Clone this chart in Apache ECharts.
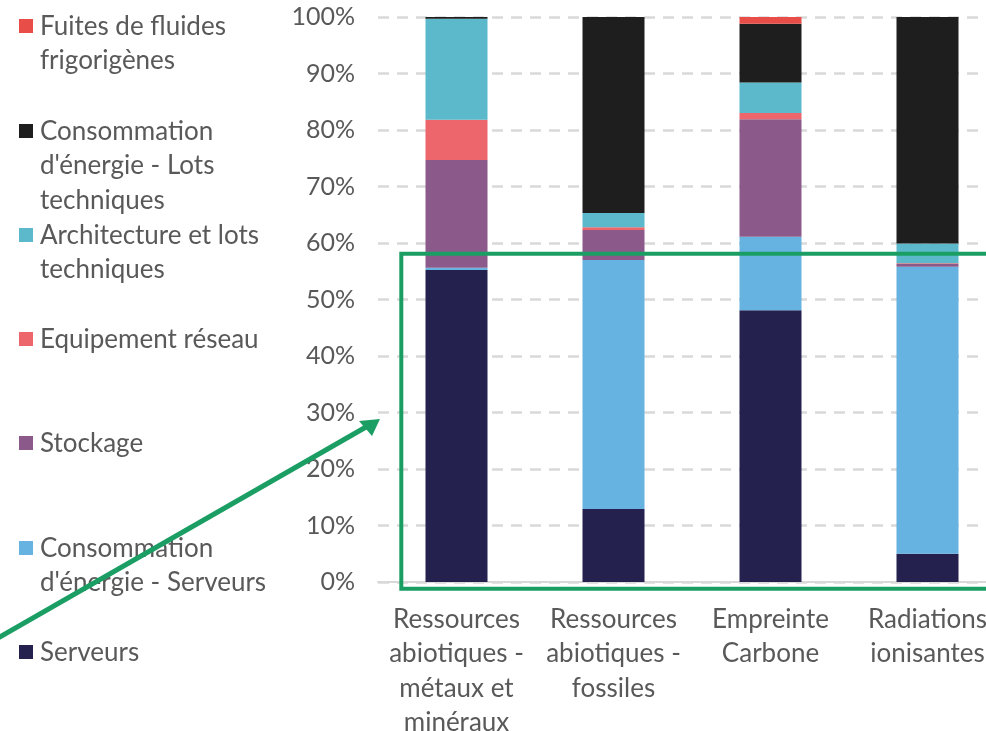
<!DOCTYPE html>
<html>
<head>
<meta charset="utf-8">
<script src="https://cdn.jsdelivr.net/npm/echarts@6/dist/echarts.min.js"></script>
<style>html,body{margin:0;padding:0;background:#fff;}#c{width:986px;height:731px;}</style>
</head>
<body>
<div id="c"></div>
<script>
const categories = ['Ressources\nabiotiques -\nmétaux et\nminéraux', 'Ressources\nabiotiques -\nfossiles', 'Empreinte\nCarbone', 'Radiations\nionisantes'];
const yTicks = [0, 10, 20, 30, 40, 50, 60, 70, 80, 90, 100];
const serveurs = [55.2, 12.9, 48.1, 5.0];
const consServeurs = [0.4, 44.1, 13.0, 50.8];
const stockage = [19.1, 5.3, 20.8, 0.5];
const equipement = [7.1, 0.5, 1.1, 0.1];
const architecture = [17.9, 2.5, 5.4, 3.5];
const consLots = [0.3, 34.7, 10.4, 40.1];
const fuites = [0.0, 0.0, 1.2, 0.0];
const seriesNames = ['Serveurs', 'Consommation d\'énergie - Serveurs', 'Stockage', 'Equipement réseau', 'Architecture et lots techniques', 'Consommation d\'énergie - Lots techniques', 'Fuites de fluides frigorigènes'];
const legendLabels = ['Serveurs', 'Consommation\nd\'énergie - Serveurs', 'Stockage', 'Equipement réseau', 'Architecture et lots\ntechniques', 'Consommation\nd\'énergie - Lots\ntechniques', 'Fuites de fluides\nfrigorigènes'];

const colors = ['#24214f', '#66b2e0', '#8c5a8a', '#ec666c', '#5bb9cb', '#1e1e1e', '#e84d48'];
const seriesData = [serveurs, consServeurs, stockage, equipement, architecture, consLots, fuites];
const FONT = 'Lato';
const TXT = '#595959';
const GREEN = '#1a9e64';

const chart = echarts.init(document.getElementById('c'), null, {renderer: 'canvas'});

const legendTops = [652, 548, 443, 339, 235, 131, 26];
const graphics = [];
legendLabels.forEach((lab, i) => {
  graphics.push({
    type: 'rect', left: 19, top: legendTops[i] - 7,
    shape: {width: 14, height: 14},
    style: {fill: colors[i]}
  });
  graphics.push({
    type: 'text', left: 40, top: legendTops[i] - 17,
    style: {text: lab, font: '26px ' + FONT, fill: TXT, lineHeight: 34.5}
  });
});
// green highlight rectangle
graphics.push({
  type: 'rect', z: 100,
  shape: {x: 401.3, y: 253.7, width: 640, height: 335},
  style: {fill: 'none', stroke: GREEN, lineWidth: 4}
});
// green arrow
graphics.push({
  type: 'line', z: 100,
  shape: {x1: -2, y1: 638, x2: 366, y2: 427},
  style: {stroke: GREEN, lineWidth: 5}
});
graphics.push({
  type: 'polygon', z: 100,
  shape: {points: [[380, 419], [359, 421], [372, 436]]},
  style: {fill: GREEN}
});

chart.setOption({
  animation: false,
  grid: {left: 378, top: 17, width: 628, bottom: 149, containLabel: false, outerBoundsMode: 'none'},
  xAxis: {
    type: 'category', data: categories,
    axisLine: {show: true, lineStyle: {color: '#d9d9d9', width: 2}},
    axisTick: {show: false},
    axisLabel: {interval: 0, color: TXT, fontFamily: FONT, fontSize: 26, lineHeight: 34.5, margin: 20}
  },
  yAxis: {
    type: 'value', min: yTicks[0], max: yTicks[yTicks.length - 1], interval: 10,
    axisLine: {show: false}, axisTick: {show: false},
    axisLabel: {color: TXT, fontFamily: FONT, fontSize: 25, margin: 23, formatter: '{value}%'},
    splitLine: {show: true, lineStyle: {color: '#d9d9d9', width: 2.5, type: [11, 8]}}
  },
  series: seriesNames.map((n, i) => ({
    name: n, type: 'bar', stack: 'total', barWidth: 62,
    data: seriesData[i], itemStyle: {color: colors[i]}
  })),
  graphic: graphics
});
</script>
</body>
</html>
